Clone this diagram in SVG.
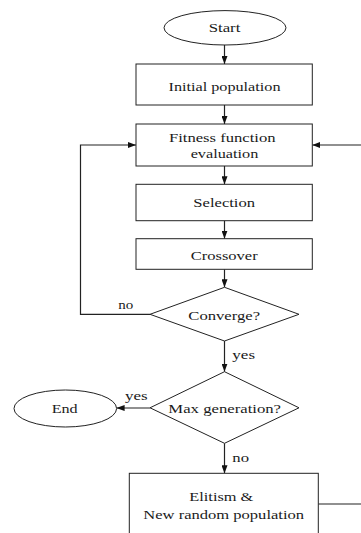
<svg xmlns="http://www.w3.org/2000/svg" width="361" height="533" viewBox="0 0 361 533">
<style>
.s{fill:#fff;stroke:#222;stroke-width:1}
.c{fill:none;stroke:#222;stroke-width:1.2}
.t{font-family:'Liberation Serif','Times New Roman',Times,serif;font-size:12.5px;fill:#1a1a1a;text-anchor:middle}
</style>
<defs>
<marker id="a" viewBox="0 0 8 6" refX="8" refY="3" markerWidth="8" markerHeight="6" markerUnits="userSpaceOnUse" orient="auto">
<path d="M0,0 L8,3 L0,6 z" fill="#111"/>
</marker>
</defs>
<g id="connectors">
<path class="c" d="M224.5,45 V64" marker-end="url(#a)"/>
<path class="c" d="M224.5,105 V124" marker-end="url(#a)"/>
<path class="c" d="M224.5,166 V184.3" marker-end="url(#a)"/>
<path class="c" d="M224.5,220.7 V238.7" marker-end="url(#a)"/>
<path class="c" d="M224.5,269.3 V287.3" marker-end="url(#a)"/>
<path class="c" d="M150,314.3 H80.5 V145 H136" marker-end="url(#a)"/>
<path class="c" d="M224.5,341 V371.7" marker-end="url(#a)"/>
<path class="c" d="M150,408 H116.6" marker-end="url(#a)"/>
<path class="c" d="M224.5,443.3 V473.3" marker-end="url(#a)"/>
<path class="c" d="M318.3,504 H366 V145 H312.3" marker-end="url(#a)"/>
<text class="t" x="125.8" y="309" textLength="15" lengthAdjust="spacingAndGlyphs">no</text>
<text class="t" x="243.7" y="358.5" textLength="22.7" lengthAdjust="spacingAndGlyphs">yes</text>
<text class="t" x="136.3" y="400" textLength="22.7" lengthAdjust="spacingAndGlyphs">yes</text>
<text class="t" x="240.7" y="461.5" textLength="16.7" lengthAdjust="spacingAndGlyphs">no</text>
</g>
<g id="start">
<ellipse class="s" cx="225" cy="27.8" rx="61" ry="17.2"/>
<text class="t" x="224.5" y="32" textLength="31.7" lengthAdjust="spacingAndGlyphs">Start</text>
</g>
<g id="initial">
<rect class="s" x="136" y="64" width="176.3" height="41"/>
<text class="t" x="224.5" y="90.7" textLength="112" lengthAdjust="spacingAndGlyphs">Initial population</text>
</g>
<g id="fitness">
<rect class="s" x="136" y="124" width="176.3" height="42"/>
<text class="t" x="222.3" y="141.5" textLength="106.7" lengthAdjust="spacingAndGlyphs">Fitness function</text>
<text class="t" x="224.5" y="157.5" textLength="67.7" lengthAdjust="spacingAndGlyphs">evaluation</text>
</g>
<g id="selection">
<rect class="s" x="136" y="184.3" width="176.3" height="36.4"/>
<text class="t" x="224.2" y="206.7" textLength="61.7" lengthAdjust="spacingAndGlyphs">Selection</text>
</g>
<g id="crossover">
<rect class="s" x="136" y="238.7" width="176.3" height="30.6"/>
<text class="t" x="224.2" y="259.5" textLength="67" lengthAdjust="spacingAndGlyphs">Crossover</text>
</g>
<g id="converge">
<polygon class="s" points="224.5,287.3 299,314.3 224.5,341 150,314.3"/>
<text class="t" x="224.2" y="319.5" textLength="71.7" lengthAdjust="spacingAndGlyphs">Converge?</text>
</g>
<g id="maxgen">
<polygon class="s" points="224.5,371.7 299,407.8 224.5,443.3 150,407.8"/>
<text class="t" x="224.7" y="412.5" textLength="112.7" lengthAdjust="spacingAndGlyphs">Max generation?</text>
</g>
<g id="end">
<ellipse class="s" cx="65.3" cy="408.5" rx="51.3" ry="18.5"/>
<text class="t" x="64.7" y="412.5" textLength="26" lengthAdjust="spacingAndGlyphs">End</text>
</g>
<g id="elitism">
<rect class="s" x="129.3" y="473.3" width="189" height="70"/>
<text class="t" x="221.3" y="500.7" textLength="64" lengthAdjust="spacingAndGlyphs">Elitism &amp;</text>
<text class="t" x="223.7" y="519" textLength="160.7" lengthAdjust="spacingAndGlyphs">New random population</text>
</g>
</svg>
